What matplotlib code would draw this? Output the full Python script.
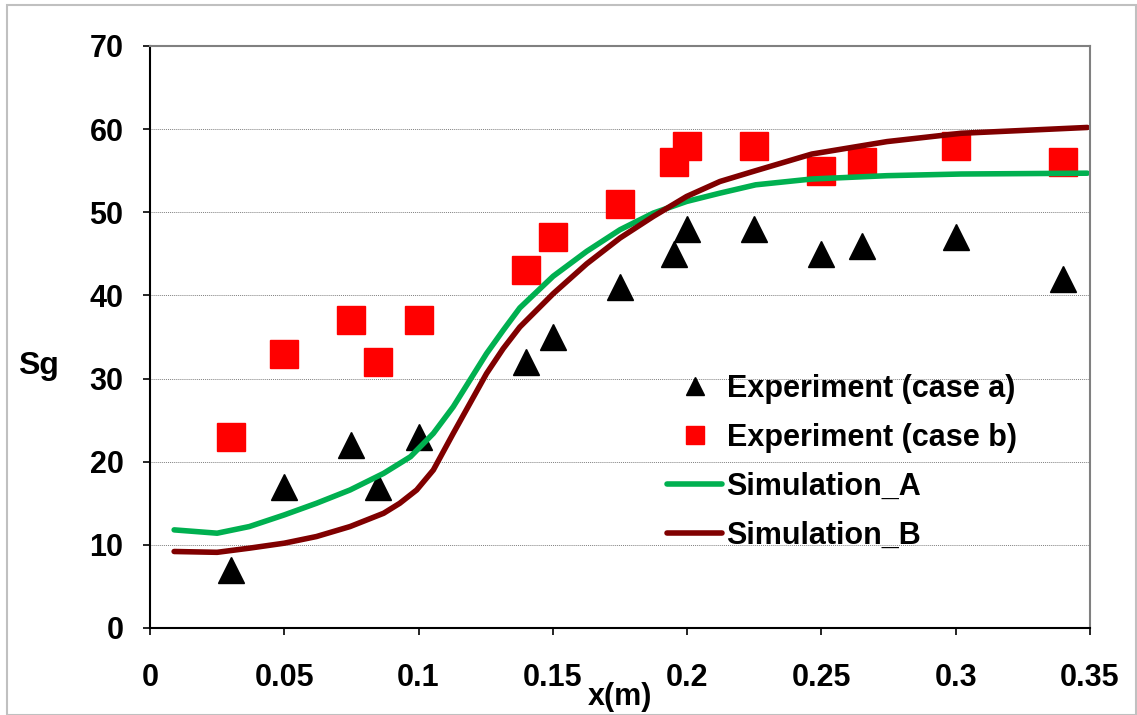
import numpy as np
import matplotlib.pyplot as plt
from matplotlib.patches import Rectangle

# measured points
x_exp = [0.03, 0.05, 0.075, 0.085, 0.1, 0.14, 0.15, 0.175, 0.195, 0.2,
         0.225, 0.25, 0.265, 0.3, 0.34]
sg_case_a = [7, 17, 22, 17, 23, 32, 35, 41, 45, 48, 48, 45, 46, 47, 42]
sg_case_b = [23, 33, 37, 32, 37, 43, 47, 51, 56, 58, 58, 55, 56, 58, 56]

# simulated profiles
x_sim_a = [0.009, 0.025, 0.037, 0.050, 0.062, 0.0745, 0.087, 0.097, 0.1055,
           0.1129, 0.1191, 0.1253, 0.1315, 0.1377, 0.1501, 0.1626, 0.175,
           0.1874, 0.1998, 0.2122, 0.2255, 0.2464, 0.2744, 0.302, 0.349]
sg_sim_a = [11.8, 11.4, 12.2, 13.6, 15.0, 16.6, 18.6, 20.6, 23.4,
            26.6, 29.8, 33.0, 35.8, 38.5, 42.3, 45.3, 47.9,
            49.9, 51.3, 52.3, 53.3, 54.0, 54.4, 54.6, 54.7]
x_sim_b = [0.009, 0.025, 0.037, 0.050, 0.062, 0.0745, 0.087, 0.093, 0.0993,
           0.1055, 0.1129, 0.1191, 0.1253, 0.1315, 0.1377, 0.1501, 0.1626,
           0.175, 0.1874, 0.1998, 0.2122, 0.2255, 0.2464, 0.2744, 0.302, 0.349]
sg_sim_b = [9.2, 9.1, 9.6, 10.2, 11.0, 12.2, 13.8, 15.0, 16.6,
            19.0, 23.4, 27.0, 30.6, 33.6, 36.2, 40.2, 43.8,
            46.9, 49.5, 51.9, 53.7, 55.0, 57.0, 58.5, 59.5, 60.2]

plt.rcParams['font.family'] = ['Liberation Sans', 'DejaVu Sans']
plt.rcParams['font.weight'] = 'bold'
FS = 22

fig = plt.figure(figsize=(11.37, 7.15), dpi=100)
ax = fig.add_axes([0.1319, 0.1217, 0.8268, 0.8140])

ax.plot(x_exp, sg_case_a, linestyle='none', marker='^', markersize=19,
        color='black', label='Experiment (case a)')
ax.plot(x_exp, sg_case_b, linestyle='none', marker='s', markersize=20,
        color='#ff0000', label='Experiment (case b)')
ax.plot(x_sim_a, sg_sim_a, color='#00b050', linewidth=4,
        solid_capstyle='round', solid_joinstyle='round', label='Simulation_A')
ax.plot(x_sim_b, sg_sim_b, color='#800000', linewidth=4,
        solid_capstyle='round', solid_joinstyle='round', label='Simulation_B')

ax.set_xlim(0, 0.35)
ax.set_ylim(0, 70)
ax.set_xticks(np.arange(0, 0.351, 0.05))
ax.set_xticklabels(['0', '0.05', '0.1', '0.15', '0.2', '0.25', '0.3', '0.35'])
ax.set_yticks(np.arange(0, 71, 10))
ax.tick_params(labelsize=FS, length=5, width=1.2)
ax.tick_params(axis='x', pad=20)
ax.tick_params(axis='y', pad=14)
ax.yaxis.grid(True, color='#808080', linestyle=(0, (1, 1)), linewidth=0.7)
ax.set_axisbelow(True)

for s in ['left', 'bottom']:
    ax.spines[s].set_color('black')
    ax.spines[s].set_linewidth(1.5)
for s in ['top', 'right']:
    ax.spines[s].set_color('#808080')
    ax.spines[s].set_linewidth(1.5)

ax.set_xlabel('x(m)', fontsize=FS, fontweight='bold', va='center')
ax.xaxis.set_label_coords(0.5, -0.118)
ax.set_ylabel('Sg', fontsize=FS + 1, fontweight='bold', rotation=0,
              va='center', ha='center')
ax.yaxis.set_label_coords(-0.119, 0.45)

leg = ax.legend(loc='upper left', bbox_to_anchor=(0.55, 0.437), frameon=False,
                fontsize=FS, markerscale=0.68, handlelength=1.8,
                handletextpad=0.15, labelspacing=0.62, borderpad=0,
                borderaxespad=0)

fig.patches.append(Rectangle((0.006, 0.0), 0.993, 0.993, transform=fig.transFigure,
                             fill=False, edgecolor='#c0c0c0', linewidth=1.5))

plt.savefig('out.png', dpi=100)
